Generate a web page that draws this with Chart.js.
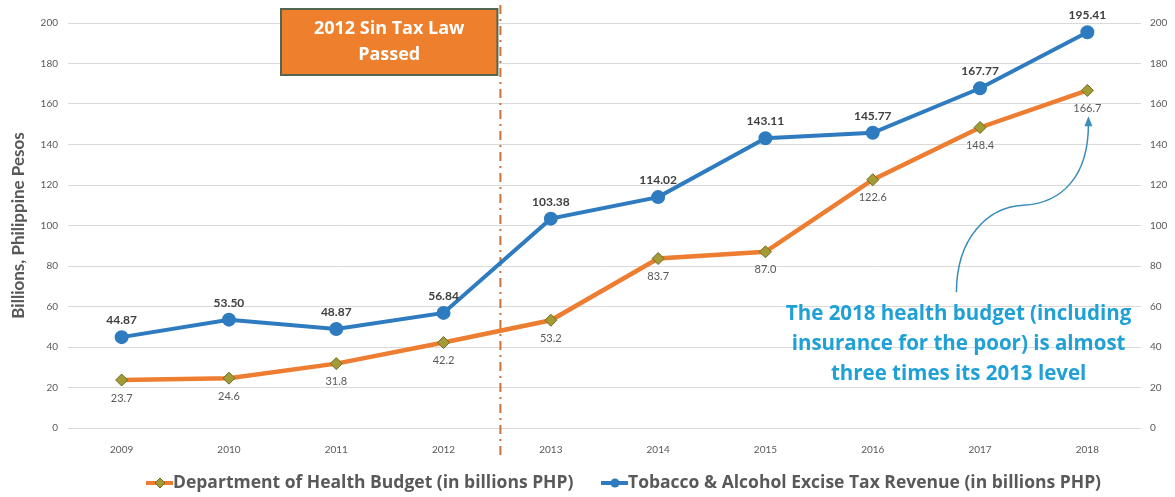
<!DOCTYPE html>
<html>
<head>
<meta charset="utf-8">
<script src="https://cdn.jsdelivr.net/npm/chart.js@4.4.1/dist/chart.umd.min.js"></script>
<style>
  html, body { margin: 0; padding: 0; background: #fff; }
  #wrap { width: 1175px; height: 497px; }
</style>
</head>
<body>
<div id="wrap"><canvas id="sinTaxChart" width="1175" height="497"></canvas></div>
<script>
const years = ['2009', '2010', '2011', '2012', '2013', '2014', '2015', '2016', '2017', '2018'];
const healthBudget = [23.7, 24.6, 31.8, 42.2, 53.2, 83.7, 87.0, 122.6, 148.4, 166.7];
const healthLabels = ['23.7', '24.6', '31.8', '42.2', '53.2', '83.7', '87.0', '122.6', '148.4', '166.7'];
const taxRevenue = [44.87, 53.50, 48.87, 56.84, 103.38, 114.02, 143.11, 145.77, 167.77, 195.41];
const taxLabels = ['44.87', '53.50', '48.87', '56.84', '103.38', '114.02', '143.11', '145.77', '167.77', '195.41'];
const yTicks = [0, 20, 40, 60, 80, 100, 120, 140, 160, 180, 200];

const ORANGE = '#ed7d31';
const BLUE = '#2e7bbf';
const GREY = '#595959';
const CYAN = '#1fa0d6';
const FONT = 'Lato, "Open Sans", sans-serif';
const WIDE = '"Open Sans", Lato, sans-serif';

// labels on the points, legend and the notes (sin tax law line, callout)
const extras = {
    id: 'extras',
    beforeDatasetsDraw(chart) {
        const { ctx, scales: { x, y } } = chart;
        // 2012 sin tax law divider, between 2012 and 2013
        const lx = x.getPixelForValue(3.53);
        ctx.save();
        ctx.strokeStyle = '#c8733a';
        ctx.lineWidth = 2;
        ctx.setLineDash([9, 5, 2, 5]);
        ctx.beginPath();
        ctx.moveTo(lx, 5);
        ctx.lineTo(lx, y.getPixelForValue(0) + 28);
        ctx.stroke();
        ctx.restore();
    },
    afterDatasetsDraw(chart) {
        const { ctx, scales: { x, y } } = chart;
        ctx.save();
        ctx.textAlign = 'center';
        ctx.textBaseline = 'middle';

        // value labels
        const m0 = chart.getDatasetMeta(0);
        ctx.font = '11px ' + FONT;
        ctx.fillStyle = GREY;
        m0.data.forEach((pt, i) => ctx.fillText(healthLabels[i], pt.x, pt.y + 18));
        const m1 = chart.getDatasetMeta(1);
        ctx.font = 'bold 12px ' + FONT;
        ctx.fillStyle = '#404040';
        m1.data.forEach((pt, i) => ctx.fillText(taxLabels[i], pt.x, pt.y - 17));

        // sin tax law box
        const lx = x.getPixelForValue(3.53);
        ctx.fillStyle = '#ee7f2d';
        ctx.fillRect(281, 9, lx - 284, 66);
        ctx.strokeStyle = '#52654f';
        ctx.lineWidth = 2;
        ctx.strokeRect(281, 9, lx - 284, 66);
        ctx.fillStyle = '#fff';
        ctx.font = 'bold 18px ' + WIDE;
        ctx.fillText('2012 Sin Tax Law', (281 + lx - 3) / 2, 29);
        ctx.fillText('Passed', (281 + lx - 3) / 2, 55);

        // callout
        ctx.fillStyle = CYAN;
        ctx.font = 'bold 20.5px ' + WIDE;
        const cx = x.getPixelForValue(7.8);
        ctx.fillText('The 2018 health budget (including', cx, 314);
        ctx.fillText('insurance for the poor) is almost', cx, 344);
        ctx.fillText('three times its 2013 level', cx, 374);

        // curved arrow to the 2018 health budget
        const sx = x.getPixelForValue(7.78), sy = y.getPixelForValue(67);
        const mx = x.getPixelForValue(8.4), my = y.getPixelForValue(110);
        const tx = x.getPixelForValue(9.01), ty = y.getPixelForValue(153);
        ctx.strokeStyle = '#3a8dba';
        ctx.lineWidth = 1.5;
        ctx.beginPath();
        ctx.moveTo(sx, sy);
        ctx.bezierCurveTo(sx, sy - 55, mx - 35, my + 2, mx, my);
        ctx.bezierCurveTo(mx + 40, my - 2, tx, my - 30, tx, ty + 6);
        ctx.stroke();
        ctx.fillStyle = '#3a8dba';
        ctx.beginPath();
        ctx.moveTo(tx, ty - 2);
        ctx.lineTo(tx - 4, ty + 8);
        ctx.lineTo(tx + 4, ty + 8);
        ctx.closePath();
        ctx.fill();

        // legend
        const items = [
            { text: 'Department of Health Budget (in billions PHP)', x0: 146, color: ORANGE, marker: 'diamond' },
            { text: 'Tobacco & Alcohol Excise Tax Revenue (in billions PHP)', x0: 601, color: BLUE, marker: 'circle' }
        ];
        const ly = 483;
        items.forEach(it => {
            ctx.strokeStyle = it.color;
            ctx.lineWidth = 4;
            ctx.beginPath();
            ctx.moveTo(it.x0, ly);
            ctx.lineTo(it.x0 + 27, ly);
            ctx.stroke();
            const mxp = it.x0 + 14;
            if (it.marker === 'diamond') {
                ctx.fillStyle = '#a39b35';
                ctx.strokeStyle = '#6f6a22';
                ctx.lineWidth = 1;
                ctx.beginPath();
                ctx.moveTo(mxp, ly - 5);
                ctx.lineTo(mxp + 5, ly);
                ctx.lineTo(mxp, ly + 5);
                ctx.lineTo(mxp - 5, ly);
                ctx.closePath();
                ctx.fill();
                ctx.stroke();
            } else {
                ctx.fillStyle = it.color;
                ctx.beginPath();
                ctx.arc(mxp, ly, 4.5, 0, Math.PI * 2);
                ctx.fill();
            }
            ctx.fillStyle = GREY;
            ctx.font = 'bold 17.5px ' + WIDE;
            ctx.textAlign = 'left';
            ctx.fillText(it.text, it.x0 + 27, ly);
        });
        ctx.restore();
    }
};

const ctx = document.getElementById('sinTaxChart').getContext('2d');
const sinTaxChart = new Chart(ctx, {
    type: 'line',
    data: {
        labels: years,
        datasets: [{
            label: 'Department of Health Budget (in billions PHP)',
            data: healthBudget,
            borderColor: ORANGE,
            borderWidth: 4.5,
            pointStyle: 'rectRot',
            pointRadius: 6,
            pointBackgroundColor: '#a39b35',
            pointBorderColor: '#6f6a22',
            pointBorderWidth: 1,
            tension: 0,
            yAxisID: 'y'
        }, {
            label: 'Tobacco & Alcohol Excise Tax Revenue (in billions PHP)',
            data: taxRevenue,
            borderColor: BLUE,
            borderWidth: 4,
            pointStyle: 'circle',
            pointRadius: 5,
            pointBackgroundColor: BLUE,
            pointBorderColor: BLUE,
            tension: 0,
            yAxisID: 'y'
        }]
    },
    options: {
        responsive: false,
        animation: false,
        layout: { padding: { top: 23, bottom: 39, left: 0, right: 0 } },
        plugins: {
            legend: { display: false },
            tooltip: { enabled: false }
        },
        scales: {
            x: {
                offset: true,
                grid: { display: false },
                border: { display: false },
                ticks: { color: GREY, font: { family: FONT, size: 10 }, padding: 8 },
                afterFit(s) { s.height = 30; }
            },
            y: {
                position: 'left',
                min: 0,
                max: 200,
                afterBuildTicks(s) { s.ticks = yTicks.map(v => ({ value: v })); },
                grid: { color: '#d9d9d9', drawTicks: false },
                border: { display: false },
                ticks: { color: GREY, font: { family: FONT, size: 10 }, padding: 10 },
                title: {
                    display: true,
                    text: 'Billions, Philippine Pesos',
                    color: GREY,
                    font: { family: FONT, size: 17, weight: 'bold' },
                    padding: { top: 8 }
                },
                afterFit(s) { s.width = 68; }
            },
            y2: {
                position: 'right',
                min: 0,
                max: 200,
                afterBuildTicks(s) { s.ticks = yTicks.map(v => ({ value: v })); },
                grid: { display: false, drawTicks: false },
                border: { display: false },
                ticks: { color: GREY, font: { family: FONT, size: 10 }, padding: 9 },
                afterFit(s) { s.width = 34; }
            }
        }
    },
    plugins: [extras]
});
</script>
</body>
</html>
